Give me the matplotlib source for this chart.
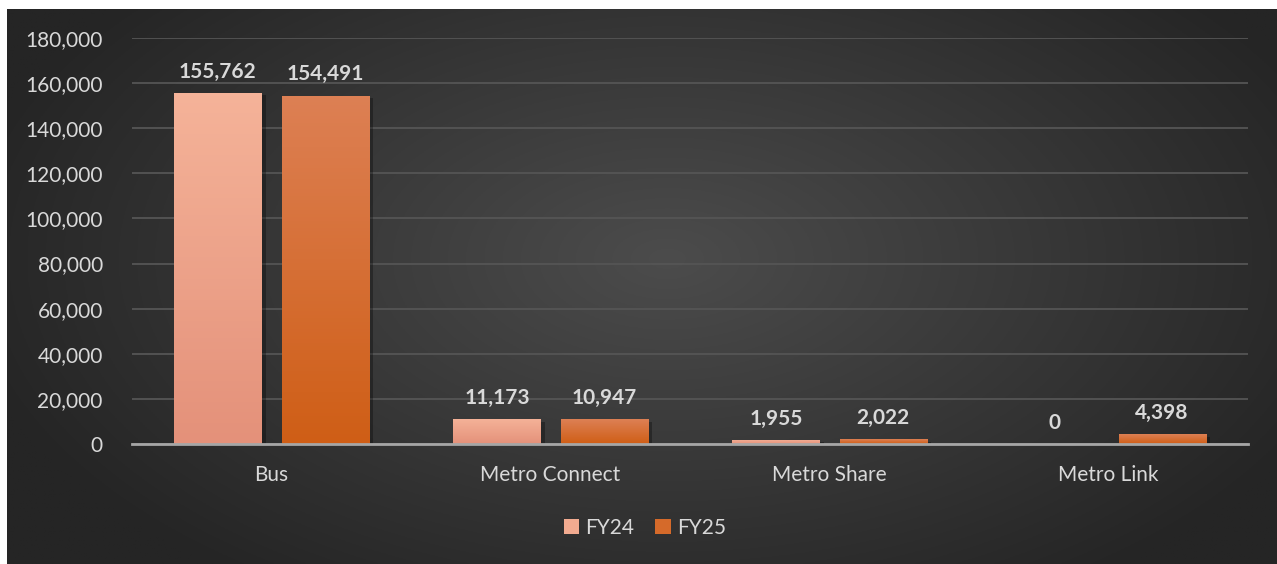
import numpy as np
import matplotlib
matplotlib.use("Agg")
import matplotlib.pyplot as plt
import matplotlib.patheffects as pe
from matplotlib.patches import Patch

# 데이터
categories = ["Bus", "Metro Connect", "Metro Share", "Metro Link"]
fy24 = [155762, 11173, 1955, 0]
fy25 = [154491, 10947, 2022, 4398]
series_names = ["FY24", "FY25"]
y_ticks = [0, 20000, 40000, 60000, 80000, 100000, 120000, 140000, 160000, 180000]

plt.rcParams['font.family'] = ['Lato', 'DejaVu Sans']
text_color = '#d9d9d9'

W, H = 1277, 564
fig = plt.figure(figsize=(W / 100, H / 100), dpi=100)
fig.patch.set_facecolor('white')

# 배경 패널 (방사형 그라데이션)
ax_bg = fig.add_axes([7 / W, 0, (W - 7) / W, (H - 9) / H])
ax_bg.axis('off')
gy, gx = np.mgrid[0:1:300j, 0:1:600j]
r = np.sqrt(((gx - 0.52) / 0.75) ** 2 + ((gy - 0.55) / 0.95) ** 2)
r = np.clip(r / 0.75, 0, 1)
light = np.array([0x4c, 0x4c, 0x4c]) / 255
dark = np.array([0x25, 0x25, 0x25]) / 255
img = light[None, None, :] * (1 - r[..., None]) + dark[None, None, :] * r[..., None]
ax_bg.imshow(img, aspect='auto', extent=[0, 1, 0, 1], origin='lower')
ax_bg.set_xlim(0, 1)
ax_bg.set_ylim(0, 1)

# 메인 차트
ax = fig.add_axes([132 / W, 120 / H, (1248 - 132) / W, (444 - 38) / H])
ax.patch.set_alpha(0)

x = np.arange(len(categories))
bar_w = 0.312
offset = 0.192

grad_colors = {
    "FY24": ('#f5b399', '#e4917a'),
    "FY25": ('#dd8054', '#cf5e16'),
}

def gradient_bars(xpos, values, name):
    # 막대마다 위(밝음) -> 아래(진함) 그라데이션
    top_c, bot_c = grad_colors[name]
    bars = ax.bar(xpos, values, width=bar_w, color=bot_c, zorder=3,
                  path_effects=[pe.SimplePatchShadow(offset=(3, -2), shadow_rgbFace='black', alpha=0.3),
                                pe.Normal()])
    tc = np.array(matplotlib.colors.to_rgb(top_c))
    bc = np.array(matplotlib.colors.to_rgb(bot_c))
    t = np.linspace(0, 1, 100)[:, None]
    grad = (bc * (1 - t) + tc * t)[:, None, :]
    for b in bars:
        if b.get_height() <= 0:
            continue
        x0 = b.get_x()
        im = ax.imshow(grad, aspect='auto', origin='lower', zorder=3.5,
                       extent=[x0, x0 + b.get_width(), 0, b.get_height()])
        im.set_clip_path(b)
    return bars

bars24 = gradient_bars(x - offset, fy24, "FY24")
bars25 = gradient_bars(x + offset, fy25, "FY25")

for xpos, vals in ((x - offset, fy24), (x + offset, fy25)):
    for xi, v in zip(xpos, vals):
        ax.annotate(f"{v:,}", (xi, v), xytext=(0, 8), textcoords='offset points',
                    ha='center', va='bottom', fontsize=15, fontweight='bold',
                    color=text_color, zorder=5)

ax.set_xlim(-0.5, len(categories) - 0.5)
ax.set_ylim(0, 180000)
ax.set_yticks(y_ticks)
ax.set_yticklabels([f"{v:,}" for v in y_ticks])
ax.set_xticks(x)
ax.set_xticklabels(categories)
ax.tick_params(axis='both', length=0, colors=text_color, labelsize=15)
ax.tick_params(axis='y', pad=21)
ax.tick_params(axis='x', pad=15)
ax.grid(axis='y', color='#555555', linewidth=1.3, zorder=0)
ax.set_axisbelow(True)
for s in ['top', 'right', 'left']:
    ax.spines[s].set_visible(False)
ax.spines['bottom'].set_color('#a6a6a6')
ax.spines['bottom'].set_linewidth(2)
ax.spines['bottom'].set_zorder(4)

# 범례
handles = [Patch(facecolor='#f2ab90', edgecolor='none'),
           Patch(facecolor='#d56a2a', edgecolor='none')]
leg = fig.legend(handles, series_names, loc='center', bbox_to_anchor=(645 / W, 1 - 528 / H),
                 ncol=2, frameon=False, fontsize=15, handlelength=0.75, handleheight=0.75,
                 handletextpad=0.3, columnspacing=1.0)
for t in leg.get_texts():
    t.set_color(text_color)

fig.savefig("out.png", dpi=100, facecolor=fig.get_facecolor())
